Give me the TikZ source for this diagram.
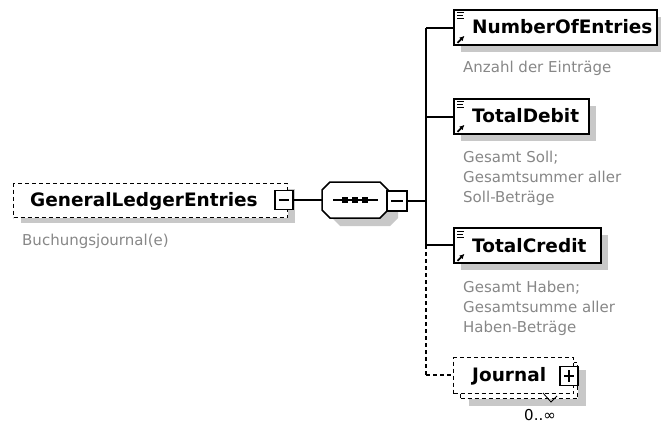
\documentclass[tikz,border=0pt]{standalone}
\usepackage{fontspec}
\setmainfont{DejaVu Sans}
\usetikzlibrary{shadows,calc,arrows.meta}
\definecolor{shadowgray}{RGB}{200,200,200}
\definecolor{annogray}{RGB}{135,135,135}
\begin{document}
\begin{tikzpicture}[x=1pt,y=-1pt,
  elbox/.style={draw, line width=1.8pt, fill=white, inner sep=0, minimum height=35pt,
    anchor=north west, drop shadow={shadow xshift=7pt, shadow yshift=-7pt, fill=shadowgray, opacity=1}},
  dbox/.style={draw, dash pattern=on 4pt off 3pt, line width=1.4pt, fill=white, inner sep=0, anchor=north west},
  pmbox/.style={draw, line width=1.4pt, fill=white, inner sep=0, minimum width=18pt, minimum height=19pt},
  lbl/.style={font=\bfseries\fontsize{18.5}{20}\selectfont, anchor=base west, inner sep=0},
  anno/.style={text=annogray, font=\fontsize{15}{20}\selectfont, anchor=north west, align=left, inner sep=0},
  conn/.style={line width=1.4pt},
  dconn/.style={line width=1.4pt, dash pattern=on 4pt off 3pt}
]
\useasboundingbox (0,0) rectangle (661,425);
% GeneralLedgerEntries
\node[dbox, minimum width=274pt, minimum height=34pt,
  drop shadow={shadow xshift=7pt, shadow yshift=-5pt, fill=shadowgray, opacity=1}] (gle) at (13,183) {};
\node[lbl] (gletxt) at (30,206) {GeneralLedgerEntries};
\node[pmbox] (glepm) at (284,200) {};
\draw[conn] ($(glepm.center)+(-5,0)$) -- ($(glepm.center)+(5,0)$);
\node[anno] (gleanno) at (22,233.6) {Buchungsjournal(e)};
% sequence
\node[minimum width=66pt, minimum height=36pt, inner sep=0] (seq) at (355,200) {};
\fill[shadowgray] (340,190) -- (390,190) -- (398,198) -- (398,218) -- (390,226) -- (340,226) -- (332,218) -- (332,198) -- cycle;
\draw[line width=1.5pt, fill=white] (330,182) -- (380,182) -- (388,190) -- (388,210) -- (380,218) -- (330,218) -- (322,210) -- (322,190) -- cycle;
\draw[conn] (333,200) -- (378,200);
\foreach \x in {345,355,365} \fill (\x-3,197) rectangle (\x+3,203);
\node[pmbox, minimum width=20pt, minimum height=20pt] (seqpm) at (397,201) {};
\draw[conn] ($(seqpm.center)+(-6,0)$) -- ($(seqpm.center)+(6,0)$);
\draw[conn] (glepm.east) -- (seq.west);
\coordinate (sp) at (426,201);
\coordinate (sp1) at (426,28);
\coordinate (sp2) at (426,117);
\coordinate (sp3) at (426,245);
\coordinate (sp4) at (426,375);
\draw[conn] (seqpm.east) -- (sp);
\draw[conn] (sp1) -- (sp3);
\draw[dconn] (sp3) -- (sp4);
% element boxes
\newcommand{\elicons}[1]{%
  \draw[line width=1pt] ($(#1.north west)+(4,4)$) -- ++(7,0) ($(#1.north west)+(4,7)$) -- ++(6,0) ($(#1.north west)+(4,10)$) -- ++(7,0);
  \draw[line width=1.8pt, -{Latex[length=5pt,width=5pt]}] ($(#1.south west)+(4.5,-3)$) -- ++(7,-7);
}
\node[elbox, minimum width=203pt] (noe) at (453,9) {};
\node[lbl] (noetxt) at (472,34) {NumberOfEntries};
\elicons{noe}
\node[anno] (noeanno) at (463,60.6) {Anzahl der Einträge};
\node[elbox, minimum width=135pt] (td) at (453,98) {};
\node[lbl] (tdtxt) at (472,123) {TotalDebit};
\elicons{td}
\node[anno] (tdanno) at (463,150.6) {Gesamt Soll;\\Gesamtsummer aller\\Soll-Beträge};
\node[elbox, minimum width=147pt] (tc) at (453,227) {};
\node[lbl] (tctxt) at (472,252) {TotalCredit};
\elicons{tc}
\node[anno] (tcanno) at (463,280.6) {Gesamt Haben;\\Gesamtsumme aller\\Haben-Beträge};
\draw[conn] (sp1) -- (noe.west |- sp1);
\draw[conn] (sp2) -- (td.west |- sp2);
\draw[conn] (sp3) -- (tc.west |- sp3);
% Journal
\node[dbox, minimum width=117pt, minimum height=36pt,
  drop shadow={shadow xshift=8pt, shadow yshift=-7pt, fill=shadowgray, opacity=1}] (jrback) at (460,362) {};
\node[dbox, minimum width=120pt, minimum height=36pt] (jr) at (453,357) {};
\node[lbl] (jrtxt) at (472,381) {Journal};
\node[pmbox] (jrpm) at (569,376) {};
\draw[conn] ($(jrpm.center)+(-5,0)$) -- ($(jrpm.center)+(5,0)$) ($(jrpm.center)+(0,-6)$) -- ($(jrpm.center)+(0,6)$);
\draw[dconn] (sp4) -- (jr.west |- sp4);
\draw[line width=0.8pt] (543,393) -- (551,402) -- (557,396);
\node[font=\fontsize{15}{17}\selectfont, inner sep=0] (mult) at (540,415) {0..∞};
\end{tikzpicture}
\end{document}
